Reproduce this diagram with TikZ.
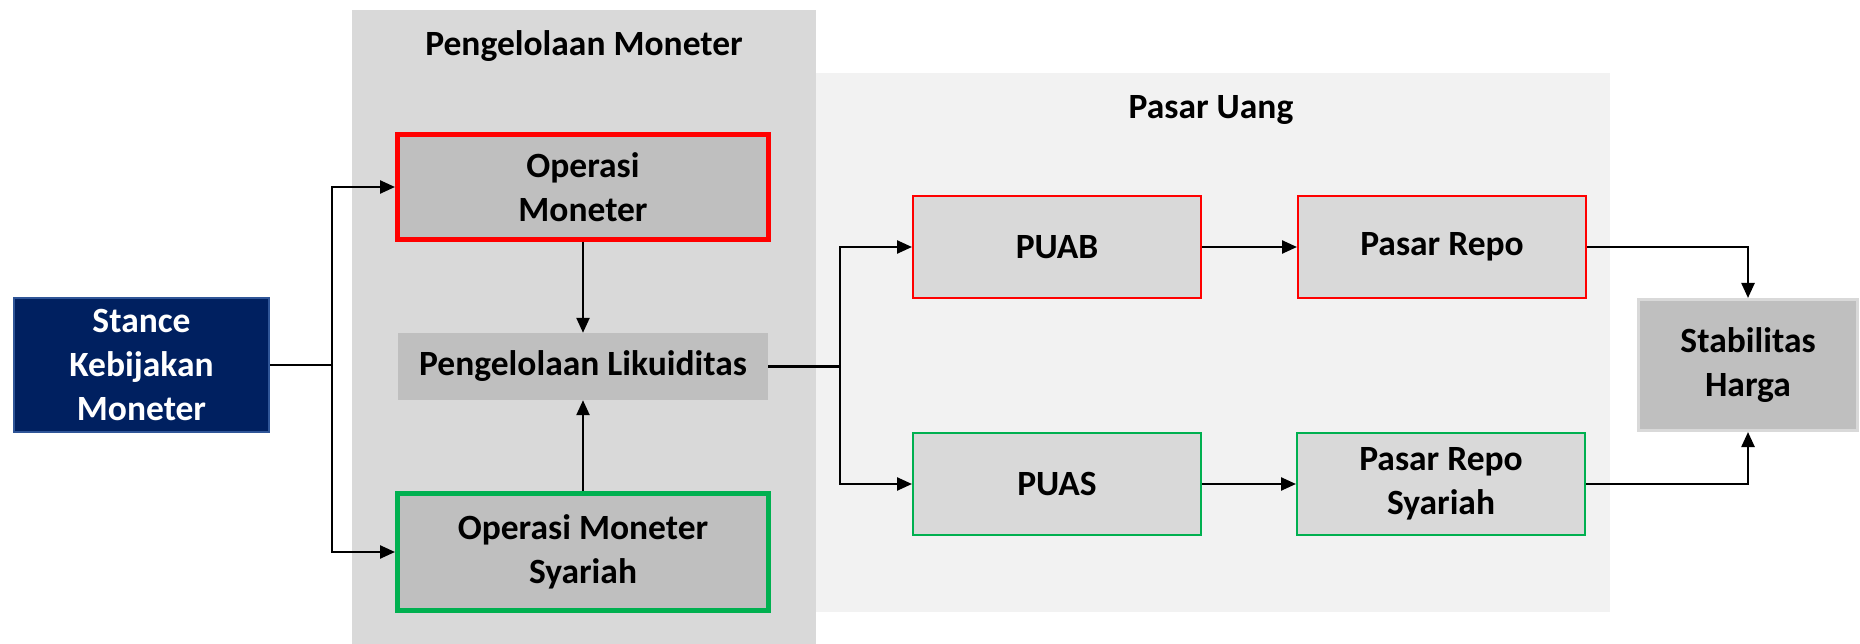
\documentclass[tikz,border=0pt]{standalone}
\usepackage{fontspec}
\setmainfont{Carlito}
\usetikzlibrary{arrows.meta}
\definecolor{navy}{HTML}{002060}
\definecolor{navyline}{HTML}{2F5597}
\definecolor{panelA}{HTML}{D9D9D9}
\definecolor{panelB}{HTML}{F2F2F2}
\definecolor{boxdark}{HTML}{BFBFBF}
\definecolor{boxlight}{HTML}{D9D9D9}
\definecolor{myred}{HTML}{FF0000}
\definecolor{mygreen}{HTML}{00B050}
\tikzset{
  lbl/.style={font=\fontsize{35.5}{44}\selectfont\bfseries, align=center, inner sep=0pt},
  bx/.style={lbl, rectangle},
  conn/.style={line width=2.4pt, draw=black},
  arr/.style={conn, -{Triangle[length=15pt,width=13pt]}},
}
\begin{document}
\begin{tikzpicture}[x=1pt,y=-1pt]
\useasboundingbox (0,0) rectangle (1860,644);
% panels
\fill[panelA] (352,10) rectangle (816,644);
\fill[panelB] (816,73) rectangle (1610,612);
\node[lbl] (tA) at (584,46) {Pengelolaan Moneter};
\node[lbl] (tB) at (1211,110) {Pasar Uang};
% boxes
\node[bx, fill=navy, draw=navyline, line width=2pt, text=white, minimum width=255pt, minimum height=134pt] (st) at (141.5,365) {Stance\\Kebijakan\\Moneter};
\node[bx, fill=boxdark, draw=myred, line width=5pt, minimum width=371pt, minimum height=105pt] (om) at (583,187) {Operasi\\Moneter};
\node[bx, fill=boxdark, minimum width=370pt, minimum height=67pt] (liq) at (583,366.5) {Pengelolaan Likuiditas};
\node[bx, fill=boxdark, draw=mygreen, line width=5pt, minimum width=371pt, minimum height=117pt] (oms) at (583,552) {Operasi Moneter\\Syariah};
\node[bx, fill=boxlight, draw=myred, line width=2pt, minimum width=288pt, minimum height=102pt] (puab) at (1057,247) {PUAB};
\node[bx, fill=boxlight, draw=myred, line width=2pt, minimum width=288pt, minimum height=102pt] (repo) at (1442,247) {Pasar Repo};
\node[bx, fill=boxlight, draw=mygreen, line width=2pt, minimum width=288pt, minimum height=102pt] (puas) at (1057,484) {PUAS};
\node[bx, fill=boxlight, draw=mygreen, line width=2pt, minimum width=288pt, minimum height=102pt] (prs) at (1441,484) {Pasar Repo\\Syariah};
\node[bx, fill=boxdark, draw=panelA, line width=3pt, minimum width=219pt, minimum height=131pt] (stab) at (1748,365) {Stabilitas\\Harga};
% junctions
\coordinate (j1) at (332,365);
\coordinate (j2) at (840,366.5);
% connectors
\draw[conn] (st.east) -- (j1);
\draw[arr] (j1) |- (om.west);
\draw[arr] (j1) |- (oms.west);
\draw[arr] (om.south) -- (liq.north);
\draw[arr] (oms.north) -- (liq.south);
\draw[conn] (liq.east) -- (j2);
\draw[arr] (j2) |- (puab.west);
\draw[arr] (j2) |- (puas.west);
\draw[arr] (puab.east) -- (repo.west);
\draw[arr] (puas.east) -- (prs.west);
\draw[arr] (repo.east) -| (stab.north);
\draw[arr] (prs.east) -| (stab.south);
\end{tikzpicture}
\end{document}
